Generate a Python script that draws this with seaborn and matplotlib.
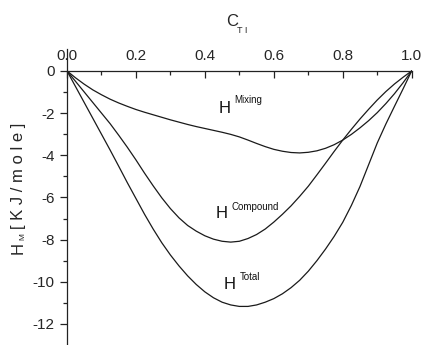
import matplotlib
matplotlib.use("Agg")
import matplotlib.pyplot as plt
import seaborn as sns
from matplotlib.ticker import FixedLocator

# ---- data ----
c_ti = [0.0, 0.025, 0.05, 0.075, 0.10, 0.125, 0.15, 0.175, 0.20, 0.225,
        0.25, 0.275, 0.30, 0.325, 0.35, 0.375, 0.40, 0.425, 0.45, 0.475,
        0.50, 0.525, 0.55, 0.575, 0.60, 0.625, 0.65, 0.675, 0.70, 0.725,
        0.75, 0.775, 0.80, 0.825, 0.85, 0.875, 0.90, 0.925, 0.95, 0.975, 1.0]
h_mixing = [0.0, -0.33, -0.63, -0.90, -1.13, -1.34, -1.52, -1.68, -1.83, -1.96,
            -2.08, -2.20, -2.32, -2.43, -2.54, -2.64, -2.73, -2.82, -2.91, -3.01,
            -3.13, -3.28, -3.44, -3.59, -3.72, -3.81, -3.87, -3.89, -3.86, -3.79,
            -3.67, -3.50, -3.28, -3.01, -2.70, -2.36, -1.98, -1.55, -1.08, -0.56, 0.0]
h_compound = [0.0, -0.50, -1.00, -1.50, -2.00, -2.50, -3.05, -3.62, -4.22, -4.85,
              -5.45, -6.02, -6.53, -6.97, -7.33, -7.60, -7.82, -7.98, -8.08, -8.12,
              -8.08, -7.95, -7.76, -7.50, -7.17, -6.80, -6.40, -5.95, -5.47, -4.93,
              -4.38, -3.82, -3.28, -2.77, -2.28, -1.82, -1.38, -0.98, -0.62, -0.30, 0.0]
h_total = [0.0, -0.75, -1.50, -2.25, -3.00, -3.75, -4.52, -5.30, -6.05, -6.80,
           -7.50, -8.15, -8.73, -9.25, -9.72, -10.13, -10.48, -10.76, -10.97, -11.10,
           -11.17, -11.17, -11.10, -10.97, -10.80, -10.57, -10.28, -9.93, -9.50, -9.00,
           -8.45, -7.85, -7.18, -6.38, -5.48, -4.45, -3.42, -2.52, -1.68, -0.85, 0.0]

x_ticks = [0.0, 0.2, 0.4, 0.6, 0.8, 1.0]
x_tick_labels = ["0.0", "0.2", "0.4", "0.6", "0.8", "1.0"]
y_ticks = [0, -2, -4, -6, -8, -10, -12]
y_tick_labels = ["0", "-2", "-4", "-6", "-8", "-10", "-12"]

labels = ["Mixing", "Compound", "Total"]

sns.set_style("ticks")
plt.rcParams['font.family'] = ['Liberation Sans', 'DejaVu Sans']

fig = plt.figure(figsize=(4.24, 3.45), dpi=100)
ax = fig.add_axes([0.158, 0.0, 0.813, 0.858])

for series in (h_mixing, h_compound, h_total):
    sns.lineplot(x=c_ti, y=series, ax=ax, color="#1a1a1a", linewidth=0.9,
                 legend=False, sort=True)

ax.set_xlim(0.0, 1.0)
ax.set_ylim(-13.0, 1.04)

# spines
for s in ("right", "bottom"):
    ax.spines[s].set_visible(False)
ax.spines["top"].set_position(("data", 0))
for s in ("top", "left"):
    ax.spines[s].set_linewidth(0.9)
    ax.spines[s].set_color("#222222")

ax.xaxis.tick_top()
ax.set_xticks(x_ticks)
ax.set_xticklabels(x_tick_labels)
ax.xaxis.set_minor_locator(FixedLocator([0.1, 0.3, 0.5, 0.7, 0.9]))
ax.tick_params(axis="x", which="major", direction="in", length=5, width=0.9,
               labelsize=11, pad=5.5, color="#222222")
ax.tick_params(axis="x", which="minor", direction="in", length=3, width=0.9,
               color="#222222")

ax.set_yticks(y_ticks)
ax.set_yticklabels(y_tick_labels)
ax.yaxis.set_minor_locator(FixedLocator([-1, -3, -5, -7, -9, -11]))
ax.tick_params(axis="y", which="major", direction="out", length=5, width=0.9,
               labelsize=11, pad=4, color="#222222")
ax.tick_params(axis="y", which="minor", direction="out", length=3, width=0.9,
               color="#222222")

ax.set_xlabel("")
ax.set_ylabel("")

# curve labels
lab_pos = {"Mixing": (0.456, -1.80, 0.485, -1.39),
           "Compound": (0.448, -6.76, 0.477, -6.45),
           "Total": (0.471, -10.12, 0.500, -9.79)}
for name in labels:
    hx, hy, sx, sy = lab_pos[name]
    ax.text(hx, hy, "H", fontsize=12, ha="center", va="center", color="#111111")
    ax.text(sx, sy, name, fontsize=7, ha="left", va="center", color="#111111")

# axis titles
ax.text(0.478, 2.36, "C", fontsize=12, ha="center", va="center", clip_on=False)
ax.text(0.508, 1.92, "T I", fontsize=6.5, ha="center", va="center", clip_on=False)

fig.text(18.5 / 424, 1 - 248 / 345, "H", fontsize=12, rotation=90,
         ha="center", va="center")
fig.text(22.5 / 424, 1 - 237 / 345, "M", fontsize=6, rotation=90,
         ha="center", va="center")
fig.text(18.5 / 424, 1 - 229 / 345, "[ K J / m o l e ]", fontsize=12, rotation=90,
         ha="center", va="bottom")

fig.savefig("out.png", dpi=100)
